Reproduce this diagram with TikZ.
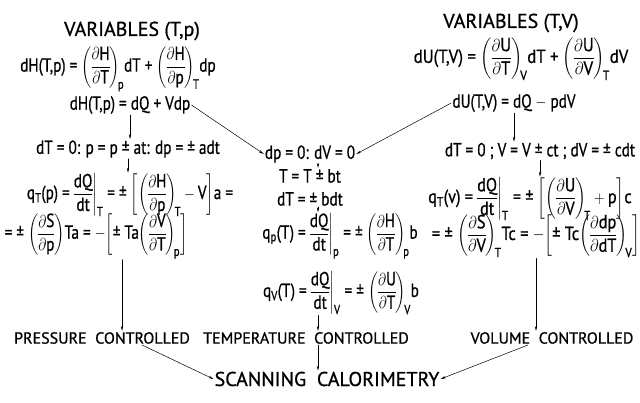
\documentclass[tikz,border=0pt]{standalone}
\usepackage{amsmath}
\usepackage{graphicx}
\usepackage{fontspec}
\setmainfont{PT Sans}[FakeBold=0.8]
\setsansfont{PT Sans}[FakeBold=0.8]
\usetikzlibrary{arrows.meta}
\setlength\nulldelimiterspace{0pt}
\newcommand{\pdv}[2]{\biggl(\dfrac{\partial\mathsf{#1}}{\partial\mathsf{#2}}\biggr)}
\newcommand{\dqdt}[1]{\dfrac{\mathsf{dQ}}{\mathsf{dt}}\bigg|_{\mathsf{#1}}}
\newcommand{\nrw}[2][0.8]{\scalebox{#1}[1]{#2}}

\begin{document}
\begin{tikzpicture}[x=1pt,y=-1pt,line cap=round,line join=round,
  every node/.style={inner sep=1pt,font=\fontsize{19}{22}\selectfont},
  lbl/.style={font=\fontsize{16}{18}\selectfont},
  big/.style={font=\fontsize{20}{24}\selectfont},
  arr/.style={-{Stealth[length=5pt,width=2.4pt]},line width=0.5pt}]
  \useasboundingbox (0,0) rectangle (640,402);
  % left: variables (T,p), right: variables (T,V), middle: temperature scan
  \node[big] (varTp) at (132,31) {VARIABLES (T,p)};
  \node[big] (varTV) at (511,23) {VARIABLES (T,V)};
  \node (dHfull) at (118,69) {\nrw{dH(T,p) = $\pdv{H}{T}_{\!\mathsf p}$dT + $\pdv{H}{p}_{\!\mathsf T}$dp}};
  \node (dUfull) at (521,59) {\nrw[0.88]{dU(T,V) = $\pdv{U}{T}_{\!\mathsf V}$dT + $\pdv{U}{V}_{\!\mathsf T}$dV}};
  \node (dHp) at (130,105) {\nrw{dH(T,p) = dQ + Vdp}};
  \node (dUV) at (514,103) {\nrw{dU(T,V) = dQ $-$ pdV}};
  \node (dTp) at (128,149) {\nrw{dT = 0: p = p ± at: dp = ± adt}};
  \node (dpV) at (310,154) {\nrw{dp = 0: dV = 0}};
  \node (dTV) at (540,151) {\nrw{dT = 0 ; V = V ± ct ; dV = ± cdt}};
  \node (TbT) at (310,176) {\nrw{T = T ± bt}};
  \node (dTb) at (310,199) {\nrw{dT = ± bdt}};
  \node (qTp) at (130,195) {\nrw{q$_\mathsf{T}$(p) = $\dqdt{T}$ = ± $\biggl[\pdv{H}{p}_{\!\mathsf T} - \mathsf{V}\biggr]$a =}};
  \node (qTpb) at (96,236) {\nrw{= ± $\pdv{S}{p}$Ta = $-\biggl[\text{± Ta}\pdv{V}{T}_{\!\mathsf p}\biggr]$}};
  \node (qpT) at (340,236) {\nrw{q$_\mathsf{p}$(T) = $\dqdt{p}$ = ± $\pdv{H}{T}_{\!\mathsf p}$b}};
  \node (qVT) at (341,293) {\nrw{q$_\mathsf{V}$(T) = $\dqdt{V}$ = ± $\pdv{U}{T}_{\!\mathsf V}$b}};
  \node (qTv) at (530,199) {\nrw[0.85]{q$_\mathsf{T}$(v) = $\dqdt{T}$ = ± $\biggl[\pdv{U}{V}_{\!\mathsf T} + \mathsf{p}\biggr]$c}};
  \node (qTvb) at (536,236) {\nrw[0.86]{= ± $\pdv{S}{V}_{\!\mathsf T}$Tc = $-\biggl[\text{± Tc}\pdv{dp}{dT}_{\!\mathsf V}\biggr]$}};
  \node[lbl] (pc) at (102,338) {PRESSURE\ \ CONTROLLED};
  \node[lbl] (tc) at (306,338) {TEMPERATURE\ \ CONTROLLED};
  \node[lbl] (vc) at (552,338) {VOLUME\ \ CONTROLLED};
  \node[big] (sc) at (327,379) {SCANNING\ \ CALORIMETRY};
  \draw[arr] (dHp.south) -- (dHp.south |- dTp.north);
  \draw[arr] (dTp.south) -- (dTp.south |- qTp.north);
  \draw[arr] (dHp.east) -- (dpV.west);
  \draw[arr] (dUV.west) -- (dpV.east);
  \draw[arr] (dUV.south) -- (dUV.south |- dTV.north);
  \draw[arr] (dTV.south) -- (dTV.south |- qTv.north);
  \draw[arr] ([xshift=8pt]dpV.south) -- ([xshift=8pt]dpV.south |- TbT.north);
  \draw[arr] ([xshift=8pt]dTb.south) -- ([xshift=8pt]dTb.south |- qpT.north);
  \draw[arr] ([xshift=26pt]qTpb.south) -- ([xshift=26pt]qTpb.south |- pc.north);
  \draw[arr] ([xshift=12pt]qVT.south -| tc.north) -- ([xshift=12pt]tc.north);
  \draw[arr] (qTvb.south) -- (qTvb.south |- vc.north);
  \draw[arr] ([xshift=12pt]tc.south) -- ([xshift=12pt]tc.south |- sc.north);
  \draw[arr] ([xshift=40pt]pc.south) -- (sc.west);
  \draw[arr] ([xshift=-24pt]vc.south) -- (sc.east);
\end{tikzpicture}
\end{document}
